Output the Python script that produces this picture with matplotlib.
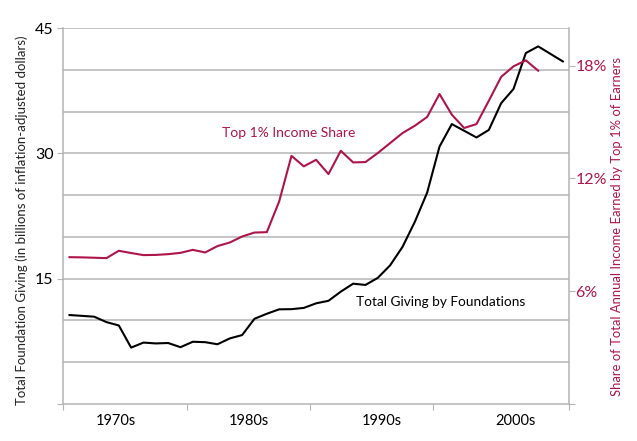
import matplotlib
matplotlib.use("Agg")
import matplotlib.pyplot as plt
from matplotlib.ticker import FixedLocator, NullFormatter

plt.rcParams['font.family'] = ['Lato', 'DejaVu Sans']

# ---- data ----
giving = [10.65, 10.55, 10.45, 9.8, 9.4, 6.75, 7.35, 7.25, 7.3, 6.8, 7.45, 7.4,
          7.15, 7.85, 8.25, 10.2, 10.8, 11.33, 11.35, 11.5, 12.05, 12.35, 13.45,
          14.4, 14.25, 15.1, 16.6, 18.8, 21.8, 25.3, 30.8, 33.5, 32.7, 31.9, 32.8,
          36.0, 37.7, 42.0, 42.8, 41.9, 41.0]
top1_share = [7.81, 7.80, 7.78, 7.76, 8.15, 8.03, 7.92, 7.93, 7.97, 8.04, 8.2,
              8.06, 8.4, 8.59, 8.91, 9.12, 9.14, 10.77, 13.2, 12.64, 12.99, 12.23,
              13.47, 12.85, 12.87, 13.35, 13.88, 14.41, 14.8, 15.27, 16.49, 15.39,
              14.68, 14.89, 16.13, 17.4, 17.96, 18.28, 17.73]
decade_labels = ['1970s', '1980s', '1990s', '2000s']
left_ticks = [0, 15, 30, 45]
left_ticklabels = ['', '15', '30', '45']
right_ticks = [0, 6, 12, 18]
right_ticklabels = ['', '6%', '12%', '18%']

RED = '#ad1547'
GRID = '#b4b4b4'

fig = plt.figure(figsize=(6.37, 4.41), dpi=100)
ax = fig.add_axes([63.3 / 637, 37 / 441, (569 - 63.3) / 637, (404 - 28) / 441])

n_cat = len(giving)
ax.set_xlim(-0.5, n_cat - 0.5)
ax.set_ylim(0, 45)

# gridlines
for v in range(5, 50, 5):
    ax.axhline(v, color=GRID, lw=1.1, zorder=0)

ax.plot(range(len(giving)), giving, color='black', lw=1.5, zorder=3)

ax.set_yticks(left_ticks)
ax.set_yticklabels(left_ticklabels)
ax.tick_params(axis='y', direction='out', length=4, color=GRID, labelsize=11.5,
               pad=3, labelcolor='black')

# x ticks: category boundaries every 10, labels in between
ax.xaxis.set_major_locator(FixedLocator([-0.5, 9.5, 19.5, 29.5, n_cat - 0.5]))
ax.xaxis.set_major_formatter(NullFormatter())
label_pos = [3.75, 14.55, 25.35, 36.2]
ax.xaxis.set_minor_locator(FixedLocator(label_pos))
ax.set_xticklabels(decade_labels, minor=True)
ax.tick_params(axis='x', which='major', direction='out', length=4, color=GRID)
ax.tick_params(axis='x', which='minor', length=0, labelsize=10.5, pad=7)

for s in ['left', 'right', 'bottom']:
    ax.spines[s].set_color(GRID)
    ax.spines[s].set_linewidth(1.1)
ax.spines['top'].set_visible(False)

ax2 = ax.twinx()
ax2.set_ylim(0, 20)
ax2.plot(range(len(top1_share)), top1_share, color=RED, lw=1.5, zorder=3)
ax2.set_yticks(right_ticks)
ax2.set_yticklabels(right_ticklabels)
ax2.tick_params(axis='y', direction='out', length=4, color=GRID, labelsize=11.5,
                pad=0.5, labelcolor=RED)
for s in ['left', 'right', 'bottom', 'top']:
    ax2.spines[s].set_visible(False)

ax.text(289 / 637, 1 - 133 / 441, 'Top 1% Income Share', transform=fig.transFigure,
        color=RED, fontsize=10, ha='center', va='center')
ax.text(441 / 637, 1 - 302 / 441, 'Total Giving by Foundations', transform=fig.transFigure,
        color='black', fontsize=9.8, ha='center', va='center')

fig.text(22 / 637, 1 - 220 / 441,
         'Total Foundation Giving (in billions of inflation-adjusted dollars)',
         rotation=90, ha='center', va='center', fontsize=9.5, color='#222222')
fig.text(617 / 637, 1 - 226 / 441,
         'Share of Total Annual Income Earned by Top 1% of Earners',
         rotation=90, ha='center', va='center', fontsize=9.4, color=RED)

fig.savefig('out.png', dpi=100)
